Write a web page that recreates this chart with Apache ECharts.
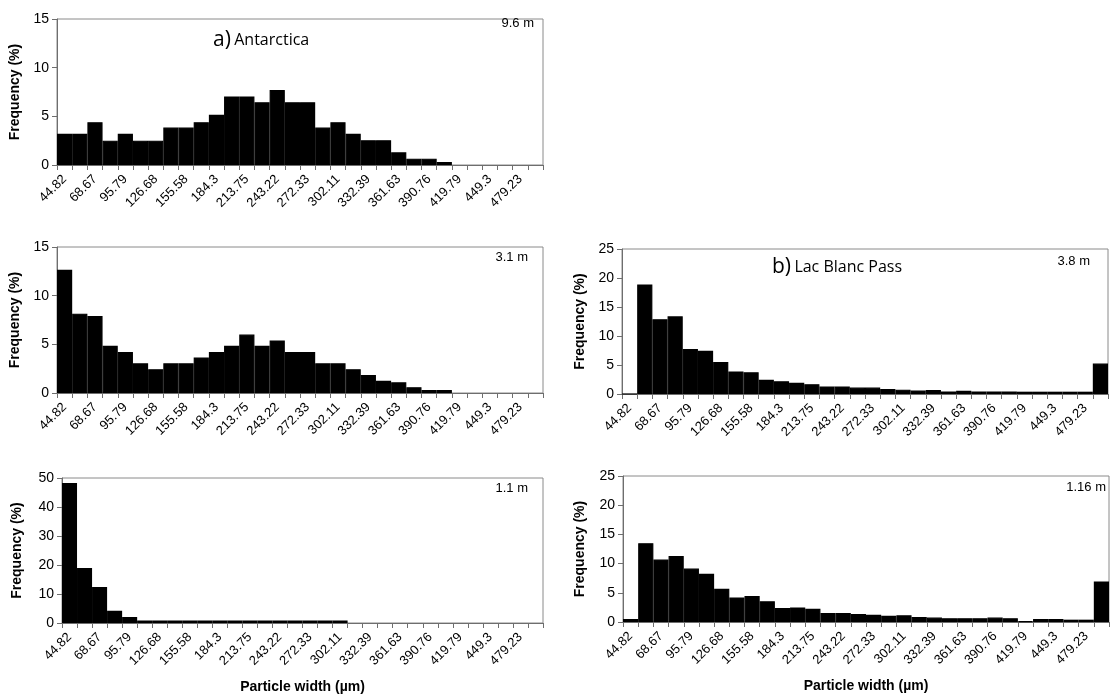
<!DOCTYPE html>
<html>
<head>
<meta charset="utf-8">
<script src="https://cdn.jsdelivr.net/npm/echarts@6/dist/echarts.min.js"></script>
<style>
html,body{margin:0;padding:0;background:#fff;}
#chart{width:1110px;height:695px;}
</style>
</head>
<body>
<div id="chart"></div>
<script>
// ---- data ----
const tickLabels = ['44.82','68.67','95.79','126.68','155.58','184.3','213.75','243.22','272.33','302.11','332.39','361.63','390.76','419.79','449.3','479.23'];
// 32 width classes, labelled every second class
const categories = [];
for (let i = 0; i < 32; i++) categories.push(i % 2 === 0 ? tickLabels[i / 2] : '');

const antarctica96 = [3.2,3.2,4.4,2.5,3.2,2.5,2.5,3.85,3.85,4.4,5.15,7.05,7.05,6.45,7.7,6.45,6.45,3.85,4.4,3.2,2.55,2.55,1.3,0.65,0.65,0.3];
const antarctica31 = [12.65,8.15,7.9,4.85,4.2,3.05,2.45,3.05,3.05,3.65,4.2,4.85,6.0,4.85,5.4,4.2,4.2,3.05,3.05,2.45,1.85,1.25,1.1,0.6,0.3,0.3];
const antarctica11 = [48.3,19.0,12.4,4.25,2.05,0.9,0.9,0.9,0.9,0.9,0.9,0.9,0.9,0.9,0.9,0.9,0.9,0.9,0.9];
const lacBlanc38 = [0,18.9,12.9,13.4,7.75,7.45,5.5,3.9,3.75,2.45,2.2,1.95,1.7,1.3,1.3,1.1,1.1,0.85,0.75,0.6,0.7,0.45,0.55,0.45,0.45,0.45,0.4,0.4,0.4,0.4,0.4,5.25];
const lacBlanc116 = [0.5,13.5,10.7,11.3,9.15,8.25,5.7,4.2,4.45,3.55,2.4,2.5,2.25,1.55,1.55,1.35,1.25,1.05,1.15,0.85,0.75,0.65,0.65,0.65,0.75,0.65,0.15,0.5,0.5,0.4,0.4,6.95];

const panelLabels = ['9.6 m','3.1 m','1.1 m','3.8 m','1.16 m'];
const yMax = [15,15,50,25,25];
const yStep = [5,5,10,5,5];
const seriesData = [antarctica96, antarctica31, antarctica11, lacBlanc38, lacBlanc116];

// ---- layout ----
const grids = [
  {left:57, top:19, width:486, height:146},
  {left:57, top:247, width:486, height:146},
  {left:62, top:478, width:481, height:145},
  {left:622, top:249, width:486, height:145},
  {left:623, top:476, width:486, height:146}
];
const showXName = [false,false,true,false,true];
const yNameGap = [35,35,38,35,36];
const font = '"Liberation Sans", Arial, sans-serif';
const gridColor = '#8a8a8a';
const calibri = '"Open Sans", "Noto Sans", sans-serif';

const option = {
  animation:false,
  backgroundColor:'#fff',
  grid: grids.map(g => Object.assign({show:true, borderColor:gridColor, borderWidth:1, backgroundColor:'transparent'}, g)),
  xAxis: grids.map((g,i) => ({
    type:'category', gridIndex:i, data:categories,
    boundaryGap:true,
    axisLine:{show:true, lineStyle:{color:'#6e6e6e', width:1}},
    axisTick:{show:true, interval:0, alignWithLabel:false, length:5, lineStyle:{color:'#6e6e6e'}},
    axisLabel:{interval:0, rotate:45, fontSize:13, color:'#000', fontFamily:font, margin:12},
    name: showXName[i] ? 'Particle width (µm)' : '',
    nameLocation:'middle', nameGap:57,
    nameTextStyle:{fontSize:14, fontWeight:'bold', color:'#000', fontFamily:font},
    splitLine:{show:false}
  })),
  yAxis: grids.map((g,i) => ({
    type:'value', gridIndex:i, min:0, max:yMax[i], interval:yStep[i],
    axisLine:{show:true, lineStyle:{color:'#6e6e6e', width:1}},
    axisTick:{show:true, length:5, lineStyle:{color:'#6e6e6e'}},
    axisLabel:{fontSize:14, color:'#000', fontFamily:font, margin:8},
    splitLine:{show:false},
    name:'Frequency (%)', nameLocation:'middle', nameGap:yNameGap[i], nameRotate:90,
    nameTextStyle:{fontSize:14, fontWeight:'bold', color:'#000', fontFamily:font}
  })),
  series: seriesData.map((d,i) => ({
    type:'bar', xAxisIndex:i, yAxisIndex:i, data:d,
    barCategoryGap:'0%', barGap:'0%',
    itemStyle:{color:'#000', borderColor:'#000', borderWidth:1.2},
    silent:true
  })),
  graphic: [
    {type:'text', left:213, top:30, style:{text:'{a|a)} {b|Antarctica}', rich:{a:{fontSize:21, fontFamily:calibri, fill:'#000'}, b:{fontSize:16, fontFamily:calibri, fill:'#000'}}}},
    {type:'text', left:772, top:257, style:{text:'{a|b)} {b|Lac Blanc Pass}', rich:{a:{fontSize:21, fontFamily:calibri, fill:'#000'}, b:{fontSize:16, fontFamily:calibri, fill:'#000'}}}},
    {type:'text', right:576, top:17, style:{text:panelLabels[0], font:'13px '+font, fill:'#000'}},
    {type:'text', right:582, top:251, style:{text:panelLabels[1], font:'13px '+font, fill:'#000'}},
    {type:'text', right:582, top:482, style:{text:panelLabels[2], font:'13px '+font, fill:'#000'}},
    {type:'text', right:20, top:255, style:{text:panelLabels[3], font:'13px '+font, fill:'#000'}},
    {type:'text', right:4, top:481, style:{text:panelLabels[4], font:'13px '+font, fill:'#000'}}
  ]
};

const chart = echarts.init(document.getElementById('chart'), null, {renderer:'canvas'});
chart.setOption(option);
</script>
</body>
</html>
